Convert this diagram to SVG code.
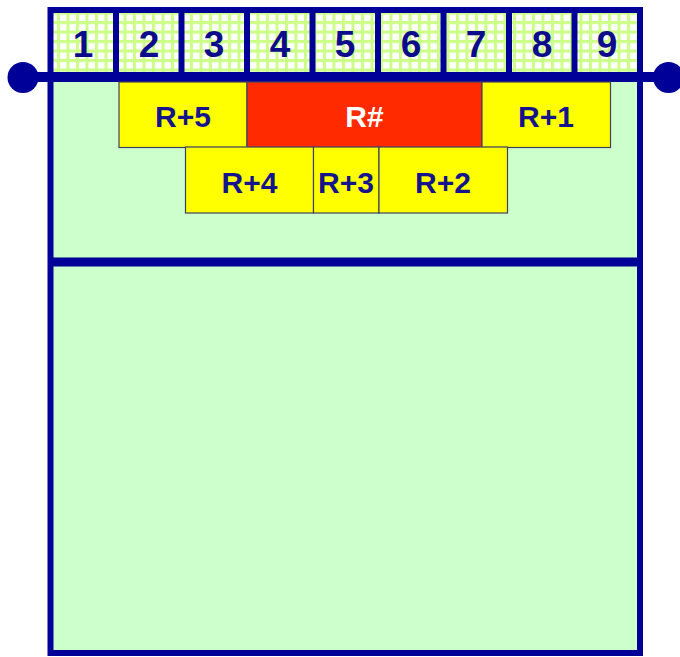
<svg xmlns="http://www.w3.org/2000/svg" width="680" height="657" viewBox="0 0 680 657">
<defs>
<pattern id="grid" width="9.5" height="9.5" patternUnits="userSpaceOnUse" x="0" y="2">
<rect width="9.5" height="9.5" fill="#ffffff"/>
<path d="M0 1.5H9.5M1.5 0V9.5" stroke="#ccff88" stroke-width="3"/>
</pattern>
<style>
.nav{fill:none;stroke:#000099;}
.num{font-family:"Liberation Sans",Arial,sans-serif;font-weight:bold;font-size:37px;fill:#0b0b8c;text-anchor:middle;}
.lbl{font-family:"Liberation Sans",Arial,sans-serif;font-weight:bold;font-size:30px;fill:#14148c;text-anchor:middle;}
.yb{fill:#ffff00;stroke:#404060;stroke-width:1.2;}
.rb{fill:#ff2a00;stroke:#404060;stroke-width:1.2;}
.dot{fill:#000099;}
</style>
</defs>
<g id="main-box">
<rect x="50.5" y="77" width="589.5" height="576" style="fill:#ccffcc;stroke:#000099;stroke-width:6"/>
<line x1="50" y1="262" x2="640" y2="262" class="nav" stroke-width="9"/>
</g>
<g id="cells">
<rect x="50.5" y="10" width="589.5" height="66" style="fill:url(#grid);stroke:#000099;stroke-width:6"/>
<g class="nav" stroke-width="6">
<line x1="116" y1="10" x2="116" y2="76"/>
<line x1="181.5" y1="10" x2="181.5" y2="76"/>
<line x1="247" y1="10" x2="247" y2="76"/>
<line x1="312.5" y1="10" x2="312.5" y2="76"/>
<line x1="378" y1="10" x2="378" y2="76"/>
<line x1="443.5" y1="10" x2="443.5" y2="76"/>
<line x1="509" y1="10" x2="509" y2="76"/>
<line x1="574.5" y1="10" x2="574.5" y2="76"/>
</g>
<text class="num" x="83" y="57">1</text>
<text class="num" x="149" y="57">2</text>
<text class="num" x="214" y="57">3</text>
<text class="num" x="280" y="57">4</text>
<text class="num" x="345" y="57">5</text>
<text class="num" x="411" y="57">6</text>
<text class="num" x="476" y="57">7</text>
<text class="num" x="542" y="57">8</text>
<text class="num" x="607" y="57">9</text>
</g>
<g id="connectors">
<line x1="23" y1="77" x2="668" y2="77" class="nav" stroke-width="10"/>
<circle class="dot" cx="23" cy="77.5" r="15.5"/>
<circle class="dot" cx="668.5" cy="77.5" r="15.5"/>
</g>
<g id="R5"><rect class="yb" x="119" y="82" width="128" height="65.5"/><text class="lbl" x="183" y="127">R+5</text></g>
<g id="Rhash"><rect class="rb" x="247" y="82" width="235" height="65.5"/><text class="lbl" x="364.5" y="127" style="fill:#ffffff">R#</text></g>
<g id="R1"><rect class="yb" x="482" y="82" width="128.5" height="65.5"/><text class="lbl" x="546" y="127">R+1</text></g>
<g id="R4"><rect class="yb" x="185.5" y="147" width="128" height="66"/><text class="lbl" x="249.5" y="193">R+4</text></g>
<g id="R3"><rect class="yb" x="313.5" y="147" width="65.5" height="66"/><text class="lbl" x="346" y="193" textLength="56" lengthAdjust="spacingAndGlyphs">R+3</text></g>
<g id="R2"><rect class="yb" x="379" y="147" width="128.5" height="66"/><text class="lbl" x="443" y="193">R+2</text></g>
</svg>
